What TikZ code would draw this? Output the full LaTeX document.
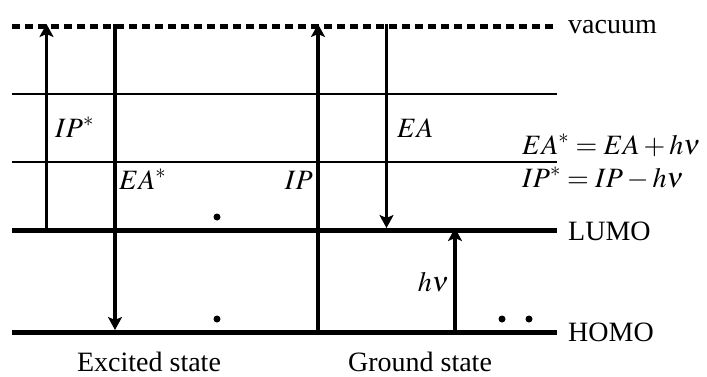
\documentclass[tikz,border=0pt]{standalone}
\usepackage{mathptmx}
\usepackage{fontspec}
\setmainfont{Liberation Serif}
\usetikzlibrary{arrows.meta}

\begin{document}
\begin{tikzpicture}[
  x=1pt, y=-1pt,
  font=\fontsize{28}{33}\selectfont,
  level/.style={line width=5pt},
  guide/.style={line width=2.3pt},
  vacline/.style={line width=5pt, dash pattern=on 8pt off 5pt},
  arrow/.style={-{Stealth[length=13pt, width=14pt, inset=3pt]}, line width=3.4pt},
  lbl/.style={inner sep=0pt},
  dot/.style={circle, fill, inner sep=0pt, minimum size=7pt}
]
\useasboundingbox (0,0) rectangle (707,376);

% levels
\coordinate (vacL) at (12,26);   \coordinate (vacR) at (553,26);
\coordinate (upL) at (12,94);    \coordinate (upR) at (557,94);
\coordinate (midL) at (12,162);  \coordinate (midR) at (557,162);
\coordinate (lumoL) at (12,230); \coordinate (lumoR) at (557,230);
\coordinate (homoL) at (12,332); \coordinate (homoR) at (557,332);
\draw[vacline] (vacL) -- (vacR);
\draw[guide] (upL) -- (upR);
\draw[guide] (midL) -- (midR);
\draw[level] (lumoL) -- (lumoR);
\draw[level] (homoL) -- (homoR);

\node[lbl, anchor=base west] (vac) at (568,33) {vacuum};
\node[lbl, anchor=base west] (lumo) at (568,240) {LUMO};
\node[lbl, anchor=base west] (homo) at (568,341) {HOMO};

% excited state
\coordinate (ipsA) at (46.5,230); \coordinate (ipsB) at (46.5,24);
\coordinate (easA) at (115,24);   \coordinate (easB) at (115,330);
\draw[arrow] (ipsA) -- (ipsB);
\draw[arrow] (easA) -- (easB);
\node[lbl, anchor=base west] (ips) at (55,137) {$IP^*$};
\node[lbl, anchor=base west] (eas) at (119,189) {$EA^*$};
\node[dot] (d1) at (217,217) {};
\node[dot] (d2) at (217,319) {};

% ground state
\coordinate (ipA) at (318,332);  \coordinate (ipB) at (318,24);
\coordinate (eaA) at (386.5,24); \coordinate (eaB) at (386.5,228);
\coordinate (hvA) at (455,332);  \coordinate (hvB) at (455,228);
\draw[arrow] (ipA) -- (ipB);
\draw[arrow] (eaA) -- (eaB);
\draw[arrow] (hvA) -- (hvB);
\node[lbl, anchor=base east] (ip) at (313,189) {$IP$};
\node[lbl, anchor=base west] (ea) at (397,137) {$EA$};
\node[lbl, anchor=base east] (hv) at (449,291) {$h\nu$};
\node[dot] (d3) at (502,319) {};
\node[dot] (d4) at (529,319) {};

\node[lbl, anchor=base west] (eqea) at (522,154) {$EA^* = EA + h\nu$};
\node[lbl, anchor=base west] (eqip) at (522,187) {$IP^* = IP - h\nu$};

\node[lbl, anchor=base] (exc) at (149,371) {Excited state};
\node[lbl, anchor=base] (gnd) at (420,371) {Ground state};
\end{tikzpicture}
\end{document}
